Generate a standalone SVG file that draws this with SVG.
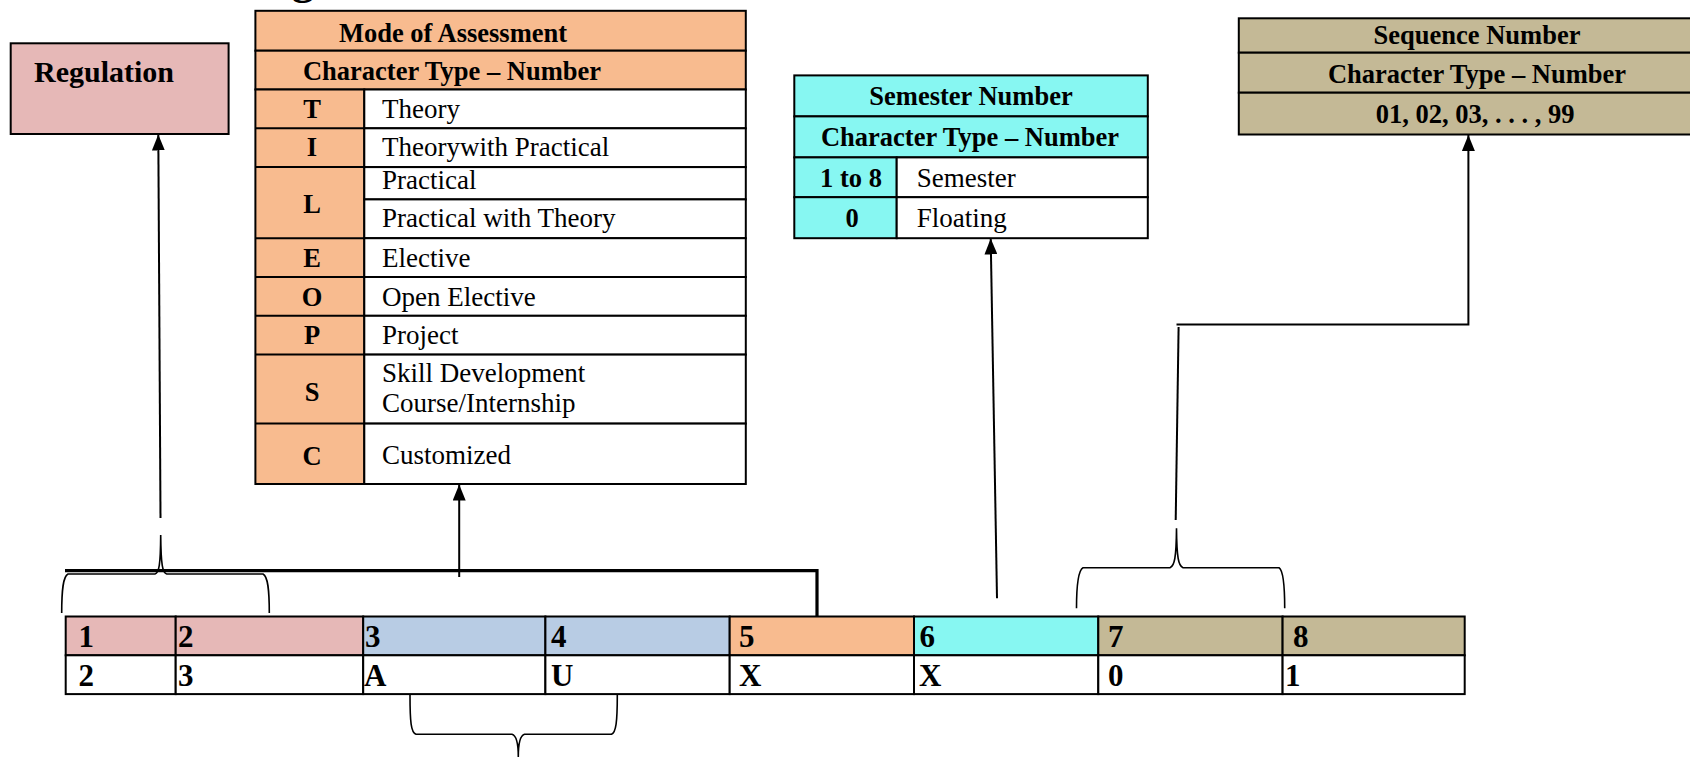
<svg xmlns="http://www.w3.org/2000/svg" width="1690" height="757" viewBox="0 0 1690 757">
<style>
  .b{font-family:"Liberation Serif","Times New Roman",serif;font-weight:bold;font-size:26.5px;fill:#000}
  .r{font-family:"Liberation Serif","Times New Roman",serif;font-size:27px;fill:#000}
  .d{font-family:"Liberation Serif","Times New Roman",serif;font-weight:bold;font-size:31px;fill:#000}
  .c{text-anchor:middle}
  .cell{stroke:#000;stroke-width:2}
  .pink{fill:#E6B8B7}
  .blue{fill:#B8CCE4}
  .orange{fill:#F8BB8F}
  .cyan{fill:#87F7F2}
  .tan{fill:#C4B996}
  .white{fill:#FFFFFF}
  .conn{fill:none;stroke:#000;stroke-width:2}
  .brace{fill:none;stroke:#000;stroke-width:1.6}
</style>
<defs>
  <marker id="arrow" viewBox="0 0 16 13" refX="16" refY="6.5" markerWidth="16" markerHeight="13" markerUnits="userSpaceOnUse" orient="auto">
    <path d="M0,0 L16,6.5 L0,13 z" fill="#000"/>
  </marker>
</defs>
<rect x="0" y="0" width="1690" height="757" fill="#FFFFFF"/>

<text class="b" x="292" y="-6" style="font-size:44px">g</text>

<g id="regulation">
  <rect class="cell pink" x="10.7" y="43.3" width="217.9" height="90.7"/>
  <text class="b" x="34" y="81.7" style="font-size:30px">Regulation</text>
</g>

<g id="mode-of-assessment">
  <rect class="cell orange" x="255.4" y="10.8" width="490.4" height="39.9"/>
  <rect class="cell orange" x="255.4" y="50.7" width="490.4" height="38.8"/>
  <rect class="cell orange" x="255.4" y="89.5" width="108.9" height="394.5"/>
  <rect class="cell white" x="364.3" y="89.5" width="381.5" height="38.8"/>
  <rect class="cell white" x="364.3" y="128.3" width="381.5" height="38.8"/>
  <rect class="cell white" x="364.3" y="167.1" width="381.5" height="32.3"/>
  <rect class="cell white" x="364.3" y="199.4" width="381.5" height="38.8"/>
  <rect class="cell white" x="364.3" y="238.2" width="381.5" height="38.8"/>
  <rect class="cell white" x="364.3" y="277" width="381.5" height="38.8"/>
  <rect class="cell white" x="364.3" y="315.8" width="381.5" height="38.8"/>
  <rect class="cell white" x="364.3" y="354.6" width="381.5" height="69"/>
  <rect class="cell white" x="364.3" y="423.6" width="381.5" height="60.4"/>
  <line class="cell" x1="255.4" y1="128.3" x2="364.3" y2="128.3"/>
  <line class="cell" x1="255.4" y1="167.1" x2="364.3" y2="167.1"/>
  <line class="cell" x1="255.4" y1="238.2" x2="364.3" y2="238.2"/>
  <line class="cell" x1="255.4" y1="277" x2="364.3" y2="277"/>
  <line class="cell" x1="255.4" y1="315.8" x2="364.3" y2="315.8"/>
  <line class="cell" x1="255.4" y1="354.6" x2="364.3" y2="354.6"/>
  <line class="cell" x1="255.4" y1="423.6" x2="364.3" y2="423.6"/>
  <text class="b c" x="453" y="42">Mode of Assessment</text>
  <text class="b c" x="452" y="80">Character Type – Number</text>
  <text class="b c" x="312" y="118">T</text>
  <text class="b c" x="312" y="156">I</text>
  <text class="b c" x="312" y="213">L</text>
  <text class="b c" x="312" y="266.7">E</text>
  <text class="b c" x="312" y="306">O</text>
  <text class="b c" x="312" y="344">P</text>
  <text class="b c" x="312" y="400.7">S</text>
  <text class="b c" x="312" y="465">C</text>
  <text class="r" x="382" y="118">Theory</text>
  <text class="r" x="382" y="156">Theorywith Practical</text>
  <text class="r" x="382" y="189.3">Practical</text>
  <text class="r" x="382" y="226.7">Practical with Theory</text>
  <text class="r" x="382" y="266.7">Elective</text>
  <text class="r" x="382" y="306">Open Elective</text>
  <text class="r" x="382" y="344">Project</text>
  <text class="r" x="382" y="381.7">Skill Development</text>
  <text class="r" x="382" y="411.7">Course/Internship</text>
  <text class="r" x="382" y="464.3">Customized</text>
</g>

<g id="semester-number">
  <rect class="cell cyan" x="794.3" y="75.4" width="353.5" height="41"/>
  <rect class="cell cyan" x="794.3" y="116.4" width="353.5" height="41"/>
  <rect class="cell cyan" x="794.3" y="157.4" width="102.4" height="39.8"/>
  <rect class="cell white" x="896.7" y="157.4" width="251.1" height="39.8"/>
  <rect class="cell cyan" x="794.3" y="197.2" width="102.4" height="41"/>
  <rect class="cell white" x="896.7" y="197.2" width="251.1" height="41"/>
  <text class="b c" x="971" y="105">Semester Number</text>
  <text class="b c" x="970" y="146">Character Type – Number</text>
  <text class="b c" x="851" y="186.7">1 to 8</text>
  <text class="r" x="916.7" y="186.7">Semester</text>
  <text class="b c" x="852" y="226.7">0</text>
  <text class="r" x="916.7" y="226.7">Floating</text>
</g>

<g id="sequence-number">
  <rect class="cell tan" x="1238.8" y="18.3" width="470" height="34.4"/>
  <rect class="cell tan" x="1238.8" y="52.7" width="470" height="40"/>
  <rect class="cell tan" x="1238.8" y="92.7" width="470" height="41.8"/>
  <text class="b c" x="1477" y="44">Sequence Number</text>
  <text class="b c" x="1477" y="82.7">Character Type – Number</text>
  <text class="b c" x="1475" y="123.3">01, 02, 03, . . . , 99</text>
</g>

<g id="code-table">
  <rect class="cell pink" x="65.7" y="616.5" width="110" height="38.8"/>
  <rect class="cell pink" x="175.7" y="616.5" width="187.5" height="38.8"/>
  <rect class="cell blue" x="363.2" y="616.5" width="182.2" height="38.8"/>
  <rect class="cell blue" x="545.4" y="616.5" width="184.3" height="38.8"/>
  <rect class="cell orange" x="729.7" y="616.5" width="184.3" height="38.8"/>
  <rect class="cell cyan" x="914" y="616.5" width="184.3" height="38.8"/>
  <rect class="cell tan" x="1098.3" y="616.5" width="184.3" height="38.8"/>
  <rect class="cell tan" x="1282.6" y="616.5" width="182.1" height="38.8"/>
  <rect class="cell white" x="65.7" y="655.3" width="110" height="38.8"/>
  <rect class="cell white" x="175.7" y="655.3" width="187.5" height="38.8"/>
  <rect class="cell white" x="363.2" y="655.3" width="182.2" height="38.8"/>
  <rect class="cell white" x="545.4" y="655.3" width="184.3" height="38.8"/>
  <rect class="cell white" x="729.7" y="655.3" width="184.3" height="38.8"/>
  <rect class="cell white" x="914" y="655.3" width="184.3" height="38.8"/>
  <rect class="cell white" x="1098.3" y="655.3" width="184.3" height="38.8"/>
  <rect class="cell white" x="1282.6" y="655.3" width="182.1" height="38.8"/>
  <text class="d" x="78.5" y="646.5">1</text>
  <text class="d" x="178" y="646.5">2</text>
  <text class="d" x="365" y="646.5">3</text>
  <text class="d" x="551" y="646.5">4</text>
  <text class="d" x="739" y="646.5">5</text>
  <text class="d" x="919.5" y="646.5">6</text>
  <text class="d" x="1108" y="646.5">7</text>
  <text class="d" x="1293" y="646.5">8</text>
  <text class="d" x="78.5" y="685.5">2</text>
  <text class="d" x="178" y="685.5">3</text>
  <text class="d" x="364" y="685.5">A</text>
  <text class="d" x="551" y="685.5">U</text>
  <text class="d" x="739" y="685.5">X</text>
  <text class="d" x="919" y="685.5">X</text>
  <text class="d" x="1108" y="685.5">0</text>
  <text class="d" x="1285" y="685.5">1</text>
</g>

<g id="connectors">
  <polyline class="conn" style="stroke-width:3.2" points="65,570.7 817,570.7 817,616.5"/>
  <path class="brace" d="M61.7,613 C61.7,590 63,576.5 68,574 L155,574 C159,573 160.5,565 160.7,535 C161,565 162.5,573 166.7,574 L263,574 C268,576.5 269.3,590 269.3,613"/>
  <line class="conn" x1="160.5" y1="518" x2="158.3" y2="134.5" marker-end="url(#arrow)"/>
  <line class="conn" x1="459.2" y1="577" x2="459.2" y2="484.5" marker-end="url(#arrow)"/>
  <path class="brace" d="M410,695 C410,722 411,732.5 416,734.3 L512,734.3 C516.5,735.5 518.3,745 518.3,757 C518.3,745 520,735.5 524.5,734.3 L611.5,734.3 C616,732.5 617.3,722 617.3,695"/>
  <line class="conn" x1="997" y1="598.3" x2="990.7" y2="238.5" marker-end="url(#arrow)"/>
  <path class="brace" d="M1076.5,608.3 C1076.5,586 1078,570.5 1083,567.7 L1170,567.7 C1174.5,566 1176.2,558 1176.5,528.3 C1176.8,558 1178.5,566 1183,567.7 L1279,567.7 C1283.5,570.5 1284.7,586 1284.7,608.3"/>
  <line class="conn" x1="1175.7" y1="520" x2="1178.6" y2="327"/>
  <polyline class="conn" points="1176.5,324.5 1468.4,324.5 1468.4,135" marker-end="url(#arrow)"/>
</g>
</svg>
